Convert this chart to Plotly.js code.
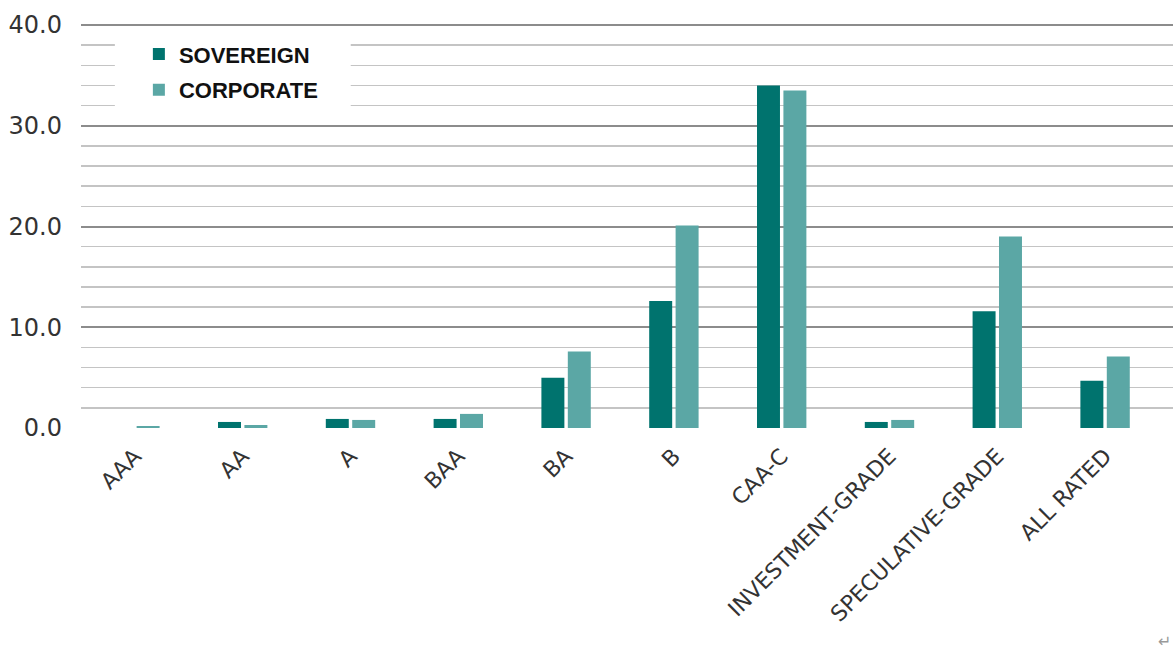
<!DOCTYPE html>
<html>
<head>
<meta charset="utf-8">
<script src="https://cdn.plot.ly/plotly-3.0.1.min.js"></script>
<style>html,body{margin:0;padding:0;background:#fff;}#chart{width:1173px;height:656px;}</style>
</head>
<body>
<div id="chart"></div>
<script>
var categories = ["AAA","AA","A","BAA","BA","B","CAA-C","INVESTMENT-GRADE","SPECULATIVE-GRADE","ALL RATED"];
var sovereign = [0, 0.6, 0.9, 0.9, 5.0, 12.6, 34.0, 0.6, 11.6, 4.7];
var corporate = [0.2, 0.3, 0.8, 1.4, 7.6, 20.1, 33.5, 0.8, 19.0, 7.1];
var yTicks = [0, 10, 20, 30, 40];
var yTickText = ["0.0", "10.0", "20.0", "30.0", "40.0"];

var traces = [
  {type:"bar", name:"SOVEREIGN", x:categories, y:sovereign, marker:{color:"#00736E"}, legendgroup:"s", hoverinfo:"y"},
  {type:"bar", name:"CORPORATE", x:categories, y:corporate, marker:{color:"#5BA7A5"}, legendgroup:"c", hoverinfo:"y"}
];

var layout = {
  width:1173, height:656,
  margin:{l:81, r:0, t:24, b:228, pad:0},
  paper_bgcolor:"#fff", plot_bgcolor:"#fff",
  barmode:"group", bargap:0.51, bargroupgap:0.13,
  showlegend:true,
  legend:{x:0.053, y:0.977, xanchor:"left", yanchor:"top", bgcolor:"rgba(0,0,0,0)",
          traceorder:"grouped", tracegroupgap:4,
          font:{family:"Liberation Sans, Arial, sans-serif", size:22, color:"#111", weight:"bold"}},
  font:{family:"DejaVu Sans, sans-serif", color:"#333"},
  xaxis:{type:"category", range:[-0.5, 9.63], tickangle:-45, showgrid:false, zeroline:false, showline:false,
         ticks:"", ticklabelstandoff:10, tickfont:{family:"DejaVu Sans, sans-serif", size:22, color:"#333"}},
  yaxis:{range:[0,40.1], tickvals:yTicks, ticktext:yTickText, showline:false, zeroline:false,
         gridcolor:"#8c8c8c", gridwidth:2, ticks:"", ticklabelstandoff:18,
         tickfont:{family:"DejaVu Sans, sans-serif", size:24, color:"#333"},
         minor:{dtick:2, showgrid:true, gridcolor:"#c4c4c4", gridwidth:1.5, ticks:""}},
  shapes:[{type:"rect", xref:"paper", yref:"y", x0:0.031, x1:0.247, y0:30.9, y1:39.3,
           fillcolor:"#fff", line:{width:0}, layer:"above"}],
  annotations:[{text:"↵", xref:"paper", yref:"paper", x:1, y:-0.5, xanchor:"right", yanchor:"top",
                showarrow:false, font:{size:16, color:"#999"}}]
};

Plotly.newPlot("chart", traces, layout, {staticPlot:true, displayModeBar:false});
</script>
</body>
</html>
